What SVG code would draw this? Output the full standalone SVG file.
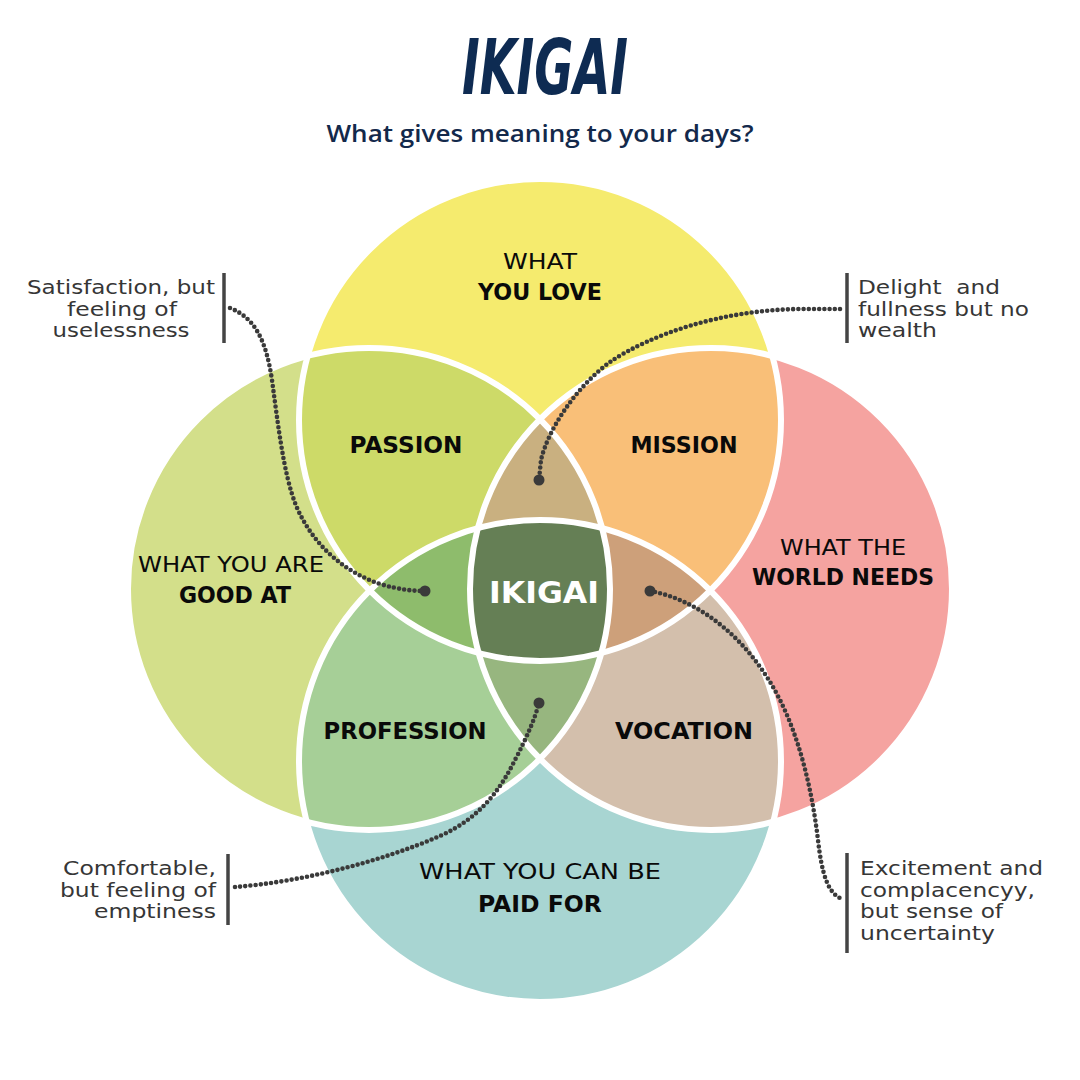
<svg xmlns="http://www.w3.org/2000/svg" width="1080" height="1080" viewBox="0 0 1080 1080">
<defs>
  <clipPath id="cT"><circle cx="540" cy="420" r="241"/></clipPath>
  <clipPath id="cL"><circle cx="369" cy="589" r="241"/></clipPath>
  <clipPath id="cR"><circle cx="711" cy="589" r="241"/></clipPath>
  <clipPath id="cB"><circle cx="540" cy="761" r="241"/></clipPath>
  <style>
    .lbl{font-family:"DejaVu Sans","Open Sans",sans-serif;font-size:22px;fill:#0a0a0a;text-anchor:middle}
    .b{font-weight:bold;font-size:23px}
    .ann{font-family:"DejaVu Sans","Open Sans",sans-serif;font-size:19px;fill:#363636}
    .bar{stroke:#444;stroke-width:3.5;fill:none}
    .dots{fill:none;stroke:#3a3a3a;stroke-width:4.6;stroke-linecap:round;stroke-dasharray:0 5.2}
    .ring{fill:none;stroke:#fff;stroke-width:6}
  </style>
</defs>
<rect width="1080" height="1080" fill="#fff"/>

<g id="title">
  <text x="545" y="94" font-family="DejaVu Sans, sans-serif" font-size="76" font-weight="bold" font-style="italic" fill="#0E2B52" text-anchor="middle" textLength="166" lengthAdjust="spacingAndGlyphs">IKIGAI</text>
  <text x="540" y="142" font-family="Open Sans, DejaVu Sans, sans-serif" font-size="23" font-weight="600" fill="#13294B" text-anchor="middle" textLength="427" lengthAdjust="spacingAndGlyphs">What gives meaning to your days?</text>
</g>

<g id="circles">
  <circle id="node-love" cx="540" cy="420" r="241" fill="#F5EB6E"/>
  <circle id="node-good" cx="369" cy="589" r="241" fill="#D3DF8A"/>
  <circle id="node-world" cx="711" cy="589" r="241" fill="#F5A3A0"/>
  <circle id="node-paid" cx="540" cy="761" r="241" fill="#A8D5D2"/>
  <g id="node-passion" clip-path="url(#cT)"><circle cx="369" cy="589" r="241" fill="#CDDA68"/></g>
  <g id="node-mission" clip-path="url(#cT)"><circle cx="711" cy="589" r="241" fill="#F9BF78"/></g>
  <g id="node-profession" clip-path="url(#cB)"><circle cx="369" cy="589" r="241" fill="#A6CF97"/></g>
  <g id="node-vocation" clip-path="url(#cB)"><circle cx="711" cy="589" r="241" fill="#D3BFAC"/></g>
  <g id="node-tlr" clip-path="url(#cT)"><g clip-path="url(#cL)"><circle cx="711" cy="589" r="241" fill="#C9B080"/></g></g>
  <g id="node-tlb" clip-path="url(#cT)"><g clip-path="url(#cL)"><circle cx="540" cy="761" r="241" fill="#8EBC6C"/></g></g>
  <g id="node-trb" clip-path="url(#cT)"><g clip-path="url(#cR)"><circle cx="540" cy="761" r="241" fill="#CDA07A"/></g></g>
  <g id="node-lrb" clip-path="url(#cB)"><g clip-path="url(#cL)"><circle cx="711" cy="589" r="241" fill="#97B67F"/></g></g>
  <g id="node-ikigai" clip-path="url(#cT)"><g clip-path="url(#cL)"><g clip-path="url(#cR)"><circle cx="540" cy="761" r="241" fill="#657F55"/></g></g></g>
  <circle class="ring" cx="540" cy="420" r="241"/>
  <circle class="ring" cx="369" cy="589" r="241"/>
  <circle class="ring" cx="711" cy="589" r="241"/>
  <circle class="ring" cx="540" cy="761" r="241"/>
</g>

<g id="labels">
  <text class="lbl" x="540" y="269" textLength="74" lengthAdjust="spacingAndGlyphs">WHAT</text>
  <text class="lbl b" x="540" y="300" textLength="124" lengthAdjust="spacingAndGlyphs">YOU LOVE</text>
  <text class="lbl b" x="406" y="453" textLength="113" lengthAdjust="spacingAndGlyphs">PASSION</text>
  <text class="lbl b" x="684" y="453" textLength="107" lengthAdjust="spacingAndGlyphs">MISSION</text>
  <text class="lbl" x="231" y="572" textLength="186" lengthAdjust="spacingAndGlyphs">WHAT YOU ARE</text>
  <text class="lbl b" x="235" y="603" textLength="112" lengthAdjust="spacingAndGlyphs">GOOD AT</text>
  <text class="lbl" x="843" y="555" textLength="126" lengthAdjust="spacingAndGlyphs">WHAT THE</text>
  <text class="lbl b" x="843" y="585" textLength="182" lengthAdjust="spacingAndGlyphs">WORLD NEEDS</text>
  <text class="lbl b" x="544" y="603" style="fill:#fff;font-size:31px" textLength="110" lengthAdjust="spacingAndGlyphs">IKIGAI</text>
  <text class="lbl b" x="405" y="739" textLength="163" lengthAdjust="spacingAndGlyphs">PROFESSION</text>
  <text class="lbl b" x="684" y="739" textLength="138" lengthAdjust="spacingAndGlyphs">VOCATION</text>
  <text class="lbl" x="540" y="879" textLength="242" lengthAdjust="spacingAndGlyphs">WHAT YOU CAN BE</text>
  <text class="lbl b" x="540" y="912" textLength="124" lengthAdjust="spacingAndGlyphs">PAID FOR</text>
</g>

<g id="connectors">
  <path class="dots" d="M 230 308 C 255 318 266 340 272 380 C 280 440 286 490 302 518 C 318 548 345 572 380 584 C 400 590 415 591 425 591"/>
  <circle cx="425" cy="591" r="5.5" fill="#3a3a3a"/>
  <path class="dots" d="M 840 309 L 800 309 C 720 310 650 335 610 362 C 575 388 548 430 541 460 L 539 480"/>
  <circle cx="539" cy="480" r="5.5" fill="#3a3a3a"/>
  <path class="dots" d="M 235 887 C 300 882 380 862 440 836 C 480 818 500 790 515 760 C 528 735 535 718 539 703"/>
  <circle cx="539" cy="703" r="5.5" fill="#3a3a3a"/>
  <path class="dots" d="M 650 591 C 700 600 750 640 780 700 C 800 740 812 790 818 840 C 822 875 828 892 840 898"/>
  <circle cx="650" cy="591" r="5.5" fill="#3a3a3a"/>
</g>

<g id="ann-useless">
  <line class="bar" x1="224" y1="273" x2="224" y2="343"/>
  <text class="ann" x="121" y="294" text-anchor="middle" textLength="188" lengthAdjust="spacingAndGlyphs">Satisfaction, but</text>
  <text class="ann" x="122" y="316" text-anchor="middle" textLength="110" lengthAdjust="spacingAndGlyphs">feeling of</text>
  <text class="ann" x="121" y="337" text-anchor="middle" textLength="137" lengthAdjust="spacingAndGlyphs">uselessness</text>
</g>
<g id="ann-wealth">
  <line class="bar" x1="847" y1="273" x2="847" y2="343"/>
  <text class="ann" x="858" y="294" textLength="142" lengthAdjust="spacingAndGlyphs" xml:space="preserve">Delight  and</text>
  <text class="ann" x="858" y="316" textLength="171" lengthAdjust="spacingAndGlyphs">fullness but no</text>
  <text class="ann" x="858" y="337" textLength="79" lengthAdjust="spacingAndGlyphs">wealth</text>
</g>
<g id="ann-empty">
  <line class="bar" x1="228" y1="854" x2="228" y2="925"/>
  <text class="ann" x="216" y="875" text-anchor="end" textLength="153" lengthAdjust="spacingAndGlyphs">Comfortable,</text>
  <text class="ann" x="216" y="897" text-anchor="end" textLength="156" lengthAdjust="spacingAndGlyphs">but feeling of</text>
  <text class="ann" x="216" y="918" text-anchor="end" textLength="122" lengthAdjust="spacingAndGlyphs">emptiness</text>
</g>
<g id="ann-uncertain">
  <line class="bar" x1="847" y1="853" x2="847" y2="953"/>
  <text class="ann" x="860" y="875" textLength="183" lengthAdjust="spacingAndGlyphs">Excitement and</text>
  <text class="ann" x="860" y="897" textLength="175" lengthAdjust="spacingAndGlyphs">complacencyy,</text>
  <text class="ann" x="860" y="918" textLength="143" lengthAdjust="spacingAndGlyphs">but sense of</text>
  <text class="ann" x="860" y="940" textLength="135" lengthAdjust="spacingAndGlyphs">uncertainty</text>
</g>
</svg>
